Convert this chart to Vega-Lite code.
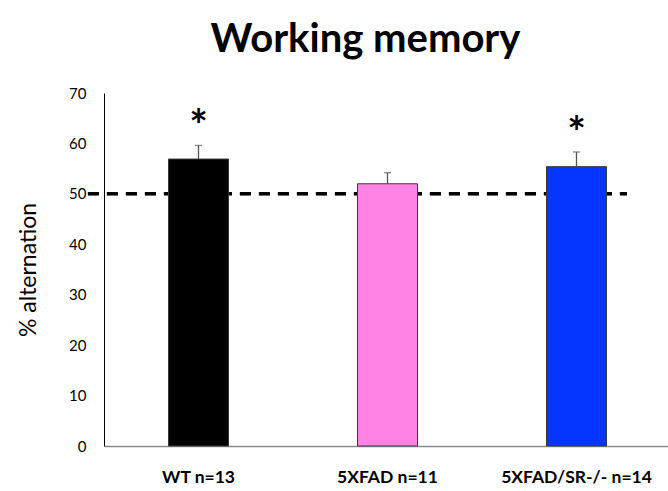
{
  "$schema": "https://vega.github.io/schema/vega-lite/v6.json",
  "autosize": {"type": "none"},
  "padding": {"left": 104, "top": 93, "right": 0, "bottom": 45},
  "width": 567,
  "height": 353,
  "background": "white",
  "config": {"view": {"stroke": null}, "font": "Lato"},
  "title": {"text": "Working memory", "fontSize": 40, "fontWeight": "bold", "font": "Lato", "color": "black", "anchor": "middle", "dx": -22, "offset": 26},
  "data": {"values": [
    {"group": "WT n=13", "value": 56.9, "err": 59.6, "star": "*"},
    {"group": "5XFAD n=11", "value": 52.0, "err": 54.2, "star": ""},
    {"group": "5XFAD/SR-/- n=14", "value": 55.4, "err": 58.3, "star": "*"}
  ]},
  "encoding": {
    "x": {"field": "group", "type": "nominal", "sort": null,
      "scale": {"domain": ["WT n=13", "5XFAD n=11", "5XFAD/SR-/- n=14"], "paddingInner": 0, "paddingOuter": 0},
      "axis": {"title": null, "labelAngle": 0, "ticks": false, "labelFontWeight": "bold", "labelFontSize": 17.5, "labelColor": "black", "labelPadding": 22, "domainColor": "#8c8c8c", "domainWidth": 1.5}}
  },
  "layer": [
    {
      "mark": {"type": "rule", "color": "black", "strokeWidth": 3, "strokeDash": [11, 8]},
      "encoding": {
        "x": {"datum": "WT n=13", "bandPosition": -0.085},
        "x2": {"datum": "5XFAD/SR-/- n=14", "bandPosition": 0.767},
        "y": {"datum": 50, "type": "quantitative"}
      }
    },
    {
      "mark": {"type": "bar", "size": 60, "stroke": "#3a3a3a", "strokeWidth": 1},
      "encoding": {
        "y": {"field": "value", "type": "quantitative",
          "scale": {"domain": [0, 70], "nice": false},
          "axis": {"title": "% alternation", "titleFontSize": 23, "titleFontWeight": "normal", "titleColor": "black", "titlePadding": 28, "values": [0, 10, 20, 30, 40, 50, 60, 70], "ticks": false, "grid": false, "labelFontSize": 15, "labelColor": "black", "labelPadding": 18, "domainColor": "black", "domainWidth": 1}},
        "color": {"field": "group", "type": "nominal", "sort": null, "legend": null,
          "scale": {"domain": ["WT n=13", "5XFAD n=11", "5XFAD/SR-/- n=14"], "range": ["#000000", "#ff82e5", "#0536ff"]}}
      }
    },
    {
      "mark": {"type": "rule", "color": "#555555", "strokeWidth": 1.3},
      "encoding": {
        "y": {"field": "value", "type": "quantitative"},
        "y2": {"field": "err"}
      }
    },
    {
      "mark": {"type": "tick", "color": "#555555", "size": 7, "thickness": 1.3},
      "encoding": {
        "y": {"field": "err", "type": "quantitative"}
      }
    },
    {
      "mark": {"type": "text", "fontSize": 44, "fontWeight": "bold", "color": "black", "baseline": "middle", "dy": -17},
      "encoding": {
        "y": {"field": "err", "type": "quantitative"},
        "text": {"field": "star"}
      }
    }
  ]
}
